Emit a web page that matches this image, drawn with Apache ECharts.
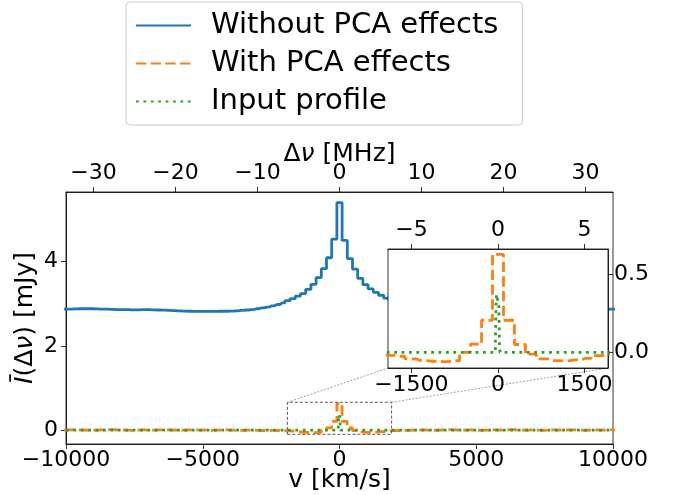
<!DOCTYPE html>
<html><head><meta charset="utf-8">
<script src="https://cdn.jsdelivr.net/npm/echarts@6/dist/echarts.min.js"></script>
<style>html,body{margin:0;padding:0;background:#fff}#c{width:676px;height:495px}</style>
</head><body><div id="c"></div>
<script>
// ---------------- data ----------------
const binWidthKms = 190;              // velocity bin width [km/s]
const nBinsEachSide = 53;             // bins on each side of 0
const kmsPerMHz = 299.79;             // conversion v <-> delta nu

// "Without PCA effects" (mJy), bins k = -53 .. 53
const withoutPCA = [
  2.87, 2.87, 2.875, 2.88, 2.88, 2.88, 2.875, 2.87, 2.87, 2.865,
  2.86, 2.86, 2.86, 2.855, 2.855, 2.86, 2.86, 2.855, 2.85, 2.845,
  2.84, 2.835, 2.83, 2.825, 2.82, 2.815, 2.815, 2.815, 2.815, 2.815,
  2.82, 2.82, 2.825, 2.83, 2.84, 2.85, 2.86, 2.88, 2.9, 2.92,
  2.95, 2.98, 3.02, 3.07, 3.12, 3.18, 3.24, 3.34, 3.46, 3.62,
  3.83, 4.09, 4.53, 5.4,
  4.5, 4.07, 3.82, 3.6, 3.45, 3.35, 3.27, 3.2, 3.13, 3.07,
  3.02, 2.98, 2.95, 2.92, 2.9, 2.88, 2.86, 2.85, 2.84, 2.835,
  2.83, 2.825, 2.82, 2.82, 2.815, 2.815, 2.82, 2.82, 2.825, 2.83,
  2.835, 2.84, 2.845, 2.85, 2.85, 2.855, 2.86, 2.86, 2.865, 2.865,
  2.87, 2.87, 2.87, 2.875, 2.875, 2.875, 2.88, 2.88, 2.875, 2.875,
  2.87, 2.87, 2.87
];
// "With PCA effects" (mJy), bins k = -53 .. 53
const withPCA = [
  0.0, 0.005, 0.01, 0.005, 0.0, -0.005, 0.0, 0.005, 0.01, 0.01,
  0.005, 0.0, 0.0, -0.005, 0.0, 0.005, 0.0, 0.0, 0.005, 0.01,
  0.005, 0.0, -0.005, 0.0, 0.005, 0.005, 0.0, 0.0, -0.005, 0.0,
  0.0, 0.005, 0.0, -0.005, -0.005, 0.0, 0.0, -0.005, -0.01, -0.01,
  -0.005, -0.01, -0.015,
  -0.02, -0.025, -0.042, -0.053, -0.057, -0.059, -0.053, 0.0, 0.052, 0.205,
  0.626,
  0.205, 0.05, -0.011, -0.042, -0.053, -0.055, -0.048, -0.038, -0.021, -0.011,
  -0.01, -0.005, -0.005, 0.0, 0.0, 0.005, 0.0, -0.005, 0.0, 0.005,
  0.01, 0.005, 0.0, 0.0, 0.005, 0.0, -0.005, 0.0, 0.005, 0.005,
  0.0, 0.005, 0.01, 0.005, 0.0, 0.0, 0.005, 0.0, -0.005, 0.0,
  0.005, 0.0, 0.0, 0.005, 0.005, 0.0, -0.005, 0.0, 0.005, 0.0,
  0.0, 0.005, 0.0
];
// "Input profile": bin edges [km/s] and values (mJy)
const inputEdges  = [-10000, -45, -35, -25, -15, -5, 5, 15, 25, 35, 10000];
const inputValues = [0, 0.05, 0.3, 0.37, 0.378, 0.378, 0.37, 0.3, 0.05, 0];

// axes / ticks
const mainXRange = [-10000, 10000];
const mainYRange = [-0.33, 5.65];
const mainXTicks = [-10000, -5000, 0, 5000, 10000];
const mainYTicks = [0, 2, 4];
const mainTopTicks = [-30, -20, -10, 0, 10, 20, 30];
const insetXRange = [-1905, 1905];
const insetYRange = [-0.1, 0.66];
const insetXTicks = [-1500, 0, 1500];
const insetTopTicks = [-5, 0, 5];
const insetYTicks = [0, 0.5];
const insetMarkers = [-1000, 1000];

// ---------------- build ----------------
const centers = withoutPCA.map((_, i) => (i - nBinsEachSide) * binWidthKms);
const blueData = centers.map((c, i) => [c, withoutPCA[i]]);
const orangeData = centers.map((c, i) => [c, withPCA[i]]);
const greenData = inputEdges.map((e, i) => [e, inputValues[Math.min(i, inputValues.length - 1)]]);
const boxData = [
  [insetXRange[0], insetYRange[0]], [insetXRange[1], insetYRange[0]],
  [insetXRange[1], insetYRange[1]], [insetXRange[0], insetYRange[1]],
  [insetXRange[0], insetYRange[0]]
];

const FONT = 'DejaVu Sans';
const TICK_FS = 22, LABEL_FS = 25, LEG_FS = 29;
const minus = v => String(v).replace('-', '\u2212');
const axLine = {show: true, onZero: false, lineStyle: {color: '#000', width: 0.8}};
const tick = (vals) => ({show: true, customValues: vals, length: 5, lineStyle: {color: '#000', width: 0.8}});
const lab = (vals, margin, fmt) => ({show: true, customValues: vals, margin: margin, fontSize: TICK_FS, color: '#000', fontFamily: FONT, formatter: fmt || minus});
const nameStyle = {fontSize: LABEL_FS, color: '#000', fontFamily: FONT,
  rich: {n: {fontSize: LABEL_FS, color: '#000', fontFamily: FONT},
         i: {fontSize: LABEL_FS, color: '#000', fontFamily: FONT, fontStyle: 'italic'}}};

const C_BLUE = '#1f77b4', C_ORANGE = '#ff7f0e', C_GREEN = '#2ca02c';
const DASH = [10.3, 4.4], DOT = [2.8, 4.6];

const chart = echarts.init(document.getElementById('c'), null, {renderer: 'canvas'});
const option = {
  animation: false,
  backgroundColor: '#fff',
  textStyle: {fontFamily: FONT},
  legend: {
    data: ['Without PCA effects', 'With PCA effects', 'Input profile'],
    orient: 'vertical', left: 126, top: 2,
    padding: [8, 24, 8, 9],
    itemWidth: 55, itemHeight: 14, itemGap: 7,
    selectedMode: false,
    itemStyle: {opacity: 0},
    textStyle: {fontSize: LEG_FS, lineHeight: 31, color: '#000', fontFamily: FONT, padding: [0, 0, 0, 15]},
    borderColor: '#cccccc', borderWidth: 1, borderRadius: 4, backgroundColor: '#fff'
  },
  grid: [
    {left: 66, top: 192, width: 547, height: 252, show: true, borderColor: '#000', borderWidth: 0.8,
     backgroundColor: 'transparent', outerBoundsMode: 'none', containLabel: false},
    {left: 388, top: 249, width: 220, height: 119, show: true, borderColor: '#000', borderWidth: 0.8,
     backgroundColor: '#fff', zlevel: 1, outerBoundsMode: 'none', containLabel: false}
  ],
  xAxis: [
    {gridIndex: 0, type: 'value', position: 'bottom', min: mainXRange[0], max: mainXRange[1],
     axisLine: axLine, axisTick: tick(mainXTicks), axisLabel: lab(mainXTicks, 5), splitLine: {show: false},
     name: 'v [km/s]', nameLocation: 'middle', nameGap: 24, nameMoveOverlap: false, nameTextStyle: nameStyle},
    {gridIndex: 0, type: 'value', position: 'top', min: mainXRange[0] / kmsPerMHz, max: mainXRange[1] / kmsPerMHz,
     axisLine: axLine, axisTick: tick(mainTopTicks), axisLabel: lab(mainTopTicks, 8), splitLine: {show: false},
     name: '{n|\u0394}{i|\u03bd} [MHz]', nameLocation: 'middle', nameGap: 25, nameMoveOverlap: false, nameTextStyle: nameStyle},
    {gridIndex: 1, type: 'value', position: 'bottom', min: insetXRange[0], max: insetXRange[1], zlevel: 1,
     axisLine: axLine, axisTick: tick(insetXTicks), axisLabel: lab(insetXTicks, 6), splitLine: {show: false}},
    {gridIndex: 1, type: 'value', position: 'top', min: insetXRange[0] / kmsPerMHz, max: insetXRange[1] / kmsPerMHz, zlevel: 1,
     axisLine: axLine, axisTick: tick(insetTopTicks), axisLabel: lab(insetTopTicks, 8), splitLine: {show: false}}
  ],
  yAxis: [
    {gridIndex: 0, type: 'value', position: 'left', min: mainYRange[0], max: mainYRange[1],
     axisLine: axLine, axisTick: tick(mainYTicks), axisLabel: lab(mainYTicks, 8), splitLine: {show: false},
     name: '{i|\u012a}(\u0394{i|\u03bd}) [mJy]', nameLocation: 'middle', nameGap: 28, nameMoveOverlap: false, nameTextStyle: nameStyle},
    {gridIndex: 1, type: 'value', position: 'right', min: insetYRange[0], max: insetYRange[1], zlevel: 1,
     axisLine: axLine, axisTick: tick(insetYTicks), axisLabel: lab(insetYTicks, 6, v => v.toFixed(1)), splitLine: {show: false}}
  ],
  series: [
    {name: 'Without PCA effects', type: 'line', xAxisIndex: 0, yAxisIndex: 0, step: 'middle', data: blueData,
     symbol: 'none', lineStyle: {color: C_BLUE, width: 2.8}, itemStyle: {color: C_BLUE}, z: 3},
    {name: 'With PCA effects', type: 'line', xAxisIndex: 0, yAxisIndex: 0, step: 'middle', data: orangeData,
     symbol: 'none', lineStyle: {color: C_ORANGE, width: 2.8, type: DASH, cap: 'butt'}, itemStyle: {color: C_ORANGE}, z: 4},
    {name: 'Input profile', type: 'line', xAxisIndex: 0, yAxisIndex: 0, step: 'end', data: greenData,
     symbol: 'none', lineStyle: {color: C_GREEN, width: 2.8, type: DOT, cap: 'butt'}, itemStyle: {color: C_GREEN}, z: 5},
    {name: 'box', type: 'line', xAxisIndex: 0, yAxisIndex: 0, data: boxData, symbol: 'none', silent: true,
     lineStyle: {color: '#444', width: 0.9, type: [3, 2]}, z: 6},
    {name: 'With PCA effects', type: 'line', xAxisIndex: 2, yAxisIndex: 1, step: 'middle', data: orangeData, zlevel: 1,
     symbol: 'none', lineStyle: {color: C_ORANGE, width: 2.8, type: DASH, cap: 'butt'}, itemStyle: {color: C_ORANGE}, z: 4},
    {name: 'Input profile', type: 'line', xAxisIndex: 2, yAxisIndex: 1, step: 'end', data: greenData, zlevel: 1,
     symbol: 'none', lineStyle: {color: C_GREEN, width: 2.8, type: DOT, cap: 'butt'}, itemStyle: {color: C_GREEN}, z: 5,
     markLine: {symbol: 'none', silent: true, label: {show: false},
       lineStyle: {color: '#000', width: 0.9, type: [4, 2]},
       data: insetMarkers.map(x => ({xAxis: x}))}}
  ]
};
chart.setOption(option);

// connector lines from zoom box (main axes) to inset corners
const pMain = p => chart.convertToPixel({xAxisIndex: 0, yAxisIndex: 0}, p);
const pInset = p => chart.convertToPixel({xAxisIndex: 2, yAxisIndex: 1}, p);
const a1 = pMain([insetXRange[0], insetYRange[1]]), b1 = pInset([insetXRange[0], insetYRange[0]]);
const a2 = pMain([insetXRange[1], insetYRange[1]]), b2 = pInset([insetXRange[1], insetYRange[0]]);
chart.setOption({graphic: [
  {type: 'line', shape: {x1: a1[0], y1: a1[1], x2: b1[0], y2: b1[1]}, style: {stroke: '#888', lineWidth: 0.8, lineDash: [2, 1.5]}, z: 10, silent: true},
  {type: 'line', shape: {x1: a2[0], y1: a2[1], x2: b2[0], y2: b2[1]}, style: {stroke: '#888', lineWidth: 0.8, lineDash: [2, 1.5]}, z: 10, silent: true}
]});
</script></body></html>
